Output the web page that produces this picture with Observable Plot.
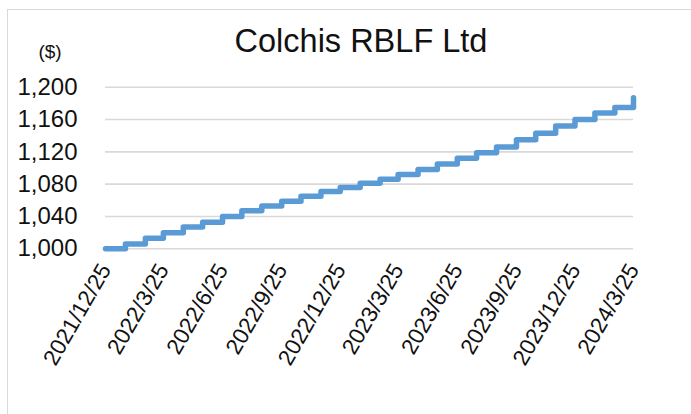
<!DOCTYPE html>
<html>
<head>
<meta charset="utf-8">
<script src="https://cdn.jsdelivr.net/npm/d3@7"></script>
<script src="https://cdn.jsdelivr.net/npm/@observablehq/plot@0.6"></script>
<style>
  html, body { margin: 0; padding: 0; background: #fff; overflow: hidden; }
  #wrap { position: relative; width: 691px; height: 414px; overflow: hidden;
          font-family: "Liberation Sans", Arial, sans-serif; color: #111; }
  #frame { position: absolute; left: 7px; top: 9px; width: 740px; height: 460px;
           border: 1.5px solid #d9d9d9; box-sizing: border-box; }
  #title { position: absolute; left: 0; width: 722px; top: 25px; text-align: center;
           font-size: 32.5px; line-height: 33px; white-space: nowrap; }
  #unit { position: absolute; left: 30px; width: 40px; top: 42px; text-align: center;
          font-size: 19px; line-height: 19px; }
  #chart { position: absolute; left: 0; top: 0; }
</style>
</head>
<body>
<div id="wrap">
  <div id="frame"></div>
  <div id="chart"></div>
  <div id="title">Colchis RBLF Ltd</div>
  <div id="unit">($)</div>
</div>
<script>
// Monthly observation dates (25th of each month)
const months = [
  "2021-12-25","2022-01-25","2022-02-25","2022-03-25","2022-04-25","2022-05-25",
  "2022-06-25","2022-07-25","2022-08-25","2022-09-25","2022-10-25","2022-11-25",
  "2022-12-25","2023-01-25","2023-02-25","2023-03-25","2023-04-25","2023-05-25",
  "2023-06-25","2023-07-25","2023-08-25","2023-09-25","2023-10-25","2023-11-25",
  "2023-12-25","2024-01-25","2024-02-25","2024-03-25"
];
// Value ($)
const values = [
  1000, 1006, 1013, 1020, 1027, 1033,
  1040, 1047, 1053, 1059, 1065, 1071,
  1076, 1081, 1086, 1092, 1098, 1105,
  1112, 1119, 1126, 1135, 1143, 1152,
  1160, 1168, 1175, 1187
];
// Axis tick labels
const xTickDates = [
  "2021-12-25","2022-03-25","2022-06-25","2022-09-25","2022-12-25",
  "2023-03-25","2023-06-25","2023-09-25","2023-12-25","2024-03-25"
];
const yTicks = [1000, 1040, 1080, 1120, 1160, 1200];

const parse = d3.utcParse("%Y-%m-%d");
const data = months.map((m, i) => ({date: parse(m), value: values[i]}));
const xTicks = xTickDates.map(parse);
const fmtDate = d3.utcFormat("%Y/%-m/%-d");
const fmtNum = d3.format(",");

const plot = Plot.plot({
  width: 691,
  height: 414,
  marginLeft: 105,
  marginRight: 58,
  marginTop: 86.7,
  marginBottom: 165.7,
  style: {fontFamily: '"Liberation Sans", Arial, sans-serif', color: "#111", background: "transparent", overflow: "visible"},
  x: {type: "utc", domain: [parse(months[0]), parse(months[months.length - 1])]},
  y: {domain: [1000, 1200]},
  marks: [
    Plot.gridY(yTicks, {stroke: "#d9d9d9", strokeOpacity: 1, strokeWidth: 1.6}),
    Plot.axisY({ticks: yTicks, tickFormat: fmtNum, tickSize: 0, tickPadding: 28, fontSize: 24, label: null}),
    Plot.axisX({ticks: xTicks, tickFormat: fmtDate, tickRotate: -60, tickSize: 0, tickPadding: 17, fontSize: 22.5, label: null}),
    Plot.line(data, {x: "date", y: "value", curve: "step-after", stroke: "#5b9bd5", strokeWidth: 5.5, strokeLinejoin: "round"})
  ]
});
document.getElementById("chart").appendChild(plot);
</script>
</body>
</html>
